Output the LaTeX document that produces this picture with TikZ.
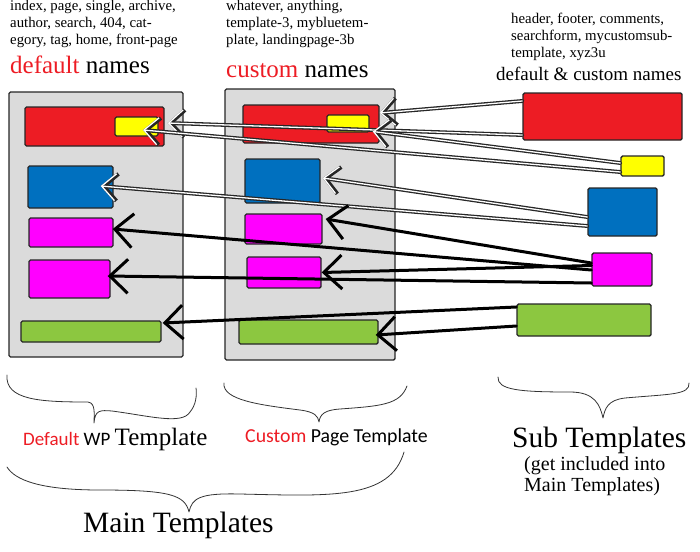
\documentclass[tikz,border=0pt]{standalone}
\usepackage{fontspec}
\setmainfont{Liberation Serif}
\newfontfamily\calibri{Carlito}
\usetikzlibrary{arrows.meta}
\definecolor{eeqqqq}{rgb}{0.93,0.11,0.14}
\definecolor{ffffqq}{rgb}{1.,1.,0.}
\definecolor{qqxxbb}{rgb}{0.,0.44,0.75}
\definecolor{ffqqff}{rgb}{1.,0.,1.}
\definecolor{aaccqq}{rgb}{0.55,0.78,0.25}
\definecolor{dcdcdc}{rgb}{0.86,0.86,0.86}
\begin{document}
\begin{tikzpicture}[line cap=round,line join=round,x=1pt,y=-1pt,
  box/.style={draw=black!85,line width=1.4pt,rounded corners=1.5pt,inner sep=0pt},
  dbl/.style={draw=white,line width=1.3pt,-{Straight Barb[length=14pt,width=27pt]},
    preaction={draw=black!85,line width=3.9pt,-{Straight Barb[length=14pt,width=27pt]}}},
  thk/.style={line width=3pt,-{Straight Barb[length=18pt,width=34pt]}},
  brace/.style={draw=black!80,line width=0.8pt},
  lbl/.style={anchor=base west,inner sep=0pt}]
\useasboundingbox (0,0) rectangle (700,551);
% main templates
\node[box,fill=dcdcdc,minimum width=174,minimum height=265] (dpanel) at (96,224.5) {};
\node[box,fill=dcdcdc,minimum width=170,minimum height=271] (cpanel) at (310,224.5) {};
\node[box,fill=eeqqqq,minimum width=139,minimum height=39] (dred) at (94.5,126.5) {};
\node[box,fill=ffffqq,minimum width=43,minimum height=19] (dyellow) at (136.5,126.5) {};
\node[box,fill=qqxxbb,minimum width=85,minimum height=42] (dblue) at (70.5,187) {};
\node[box,fill=ffqqff,minimum width=84,minimum height=29] (dmagA) at (71,232.5) {};
\node[box,fill=ffqqff,minimum width=81,minimum height=38] (dmagB) at (69.5,279) {};
\node[box,fill=aaccqq,minimum width=140,minimum height=21] (dgreen) at (91,331.5) {};
\node[box,fill=eeqqqq,minimum width=136,minimum height=38] (cred) at (311,124) {};
\node[box,fill=ffffqq,minimum width=42,minimum height=17] (cyellow) at (348,123.5) {};
\node[box,fill=qqxxbb,minimum width=75,minimum height=44] (cblue) at (282.5,181) {};
\node[box,fill=ffqqff,minimum width=77,minimum height=30] (cmagA) at (283.5,229) {};
\node[box,fill=ffqqff,minimum width=74,minimum height=31] (cmagB) at (284,272.5) {};
\node[box,fill=aaccqq,minimum width=139,minimum height=24] (cgreen) at (308.5,332) {};
% sub templates
\node[box,fill=eeqqqq,minimum width=159,minimum height=47] (sred) at (602.5,116.5) {};
\node[box,fill=ffffqq,minimum width=43,minimum height=20] (syellow) at (642.5,166) {};
\node[box,fill=qqxxbb,minimum width=69,minimum height=48] (sblue) at (622.5,212) {};
\node[box,fill=ffqqff,minimum width=60,minimum height=33] (smag) at (622,269.5) {};
\node[box,fill=aaccqq,minimum width=134,minimum height=32] (sgreen) at (584,320) {};
% includes
\draw[dbl] ([yshift=15.5pt]sred.west) -- ([yshift=11pt]cred.east);
\draw[dbl] ([yshift=-18.5pt]sred.west) -- ([xshift=3pt,yshift=3.5pt]dred.east);
\draw[dbl] ([yshift=3pt]syellow.west) -- ([xshift=3pt,yshift=-8pt]cyellow.east);
\draw[dbl] ([yshift=-6pt]syellow.west) -- ([xshift=6.5pt,yshift=-3.5pt]dyellow.center);
\draw[dbl] ([yshift=-5pt]sblue.west) -- ([xshift=2pt,yshift=3pt]cblue.east);
\draw[dbl] ([yshift=-14pt]sblue.west) -- ([xshift=-13pt,yshift=1pt]dblue.east);
\draw[thk] ([yshift=6.5pt]smag.west) -- ([xshift=3pt,yshift=10pt]cmagA.east);
\draw[thk] ([yshift=-0.5pt]smag.west) -- ([xshift=-1pt,yshift=3.5pt]dmagA.east);
\draw[thk] ([yshift=4pt]smag.west) -- (cmagB.east);
\draw[thk] ([yshift=-13.5pt]smag.west) -- ([xshift=-3pt,yshift=3pt]dmagB.east);
\draw[thk] ([yshift=13pt]sgreen.west) -- ([xshift=1pt,yshift=8.5pt]dgreen.east);
\draw[thk] ([yshift=-6pt]sgreen.west) -- ([xshift=-3pt,yshift=-3pt]cgreen.east);
% names
\begin{scope}[font=\fontsize{14.8}{17}\selectfont]
\node[lbl] (dlistA) at (10,11) {index, page, single, archive,};
\node[lbl] (dlistB) at (10,28) {author, search, 404, cat-};
\node[lbl] (dlistC) at (10,45) {egory, tag, home, front-page};
\node[lbl] (clistA) at (226,11) {whatever, anything,};
\node[lbl] (clistB) at (226,28) {template-3, mybluetem-};
\node[lbl] (clistC) at (226,45) {plate, landingpage-3b};
\node[lbl] (slistA) at (511,24) {header, footer, comments,};
\node[lbl] (slistB) at (511,40.5) {searchform, mycustomsub-};
\node[lbl] (slistC) at (511,57) {template, xyz3u};
\end{scope}
\node[lbl,font=\fontsize{25}{30}\selectfont] (dnames) at (10,74) {\textcolor{eeqqqq}{default} names};
\node[lbl,font=\fontsize{25}{30}\selectfont] (cnames) at (226,77) {\textcolor{eeqqqq}{custom} names};
\node[lbl,font=\fontsize{19}{23}\selectfont] (snames) at (496,80) {default \& custom names};
% braces
\draw[brace] (7,375) .. controls (5,400) and (40,402) .. (88,402) .. controls (96,403) and (94,415) .. (94,423)
  .. controls (95,410) and (100,410) .. (112,411) .. controls (150,416) and (182,425) .. (190,412) .. controls (196,405) and (197,395) .. (196,388);
\draw[brace] (224,383) .. controls (222,400) and (260,405) .. (300,410) .. controls (315,412) and (318,416) .. (319,422)
  .. controls (320,414) and (325,410) .. (340,409) .. controls (380,406) and (400,405) .. (407,386);
\draw[brace] (7,467) .. controls (15,480) and (40,490) .. (100,490) .. controls (170,490) and (185,495) .. (189,512)
  .. controls (192,498) and (200,493) .. (240,494) .. controls (330,496) and (390,500) .. (404,452);
\draw[brace] (498,377) .. controls (497,390) and (520,392) .. (570,392) .. controls (595,392) and (600,405) .. (603,418)
  .. controls (605,408) and (608,400) .. (625,398) .. controls (670,394) and (690,395) .. (689,383);
% captions
\node[lbl,font=\fontsize{25}{30}\selectfont] (dcap) at (23,445) {{\calibri\fontsize{19}{23}\selectfont\textcolor{eeqqqq}{Default} WP }Template};
\node[lbl,font=\calibri\fontsize{19.8}{24}\selectfont] (ccap) at (245,442) {\textcolor{eeqqqq}{Custom} Page Template};
\node[lbl,font=\fontsize{29.5}{35}\selectfont] (maincap) at (83,532) {Main Templates};
\node[lbl,font=\fontsize{29.5}{35}\selectfont] (subcap) at (512,447) {Sub Templates};
\node[lbl,font=\fontsize{20}{24}\selectfont] (subnoteA) at (524,470) {(get included into};
\node[lbl,font=\fontsize{20}{24}\selectfont] (subnoteB) at (524,491.5) {Main Templates)};
\end{tikzpicture}
\end{document}
